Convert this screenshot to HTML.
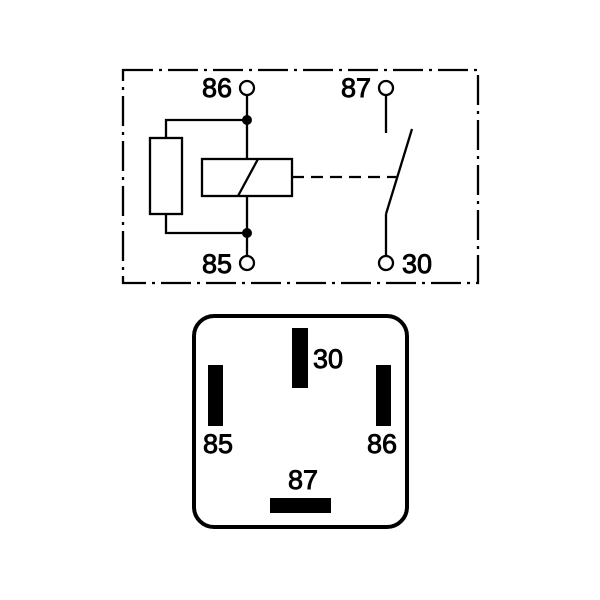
<!DOCTYPE html>
<html><head><meta charset="utf-8"><style>
html,body{margin:0;padding:0;background:#fff;}
svg{display:block}
text{font-family:"Liberation Sans",Arial,sans-serif;font-size:27px;fill:#000;stroke:#000;stroke-width:0.9px;}
</style></head><body>
<svg width="600" height="600" viewBox="0 0 600 600">
<g fill="none" stroke="#000" stroke-width="2.3">
<rect x="123" y="70" width="355" height="213" stroke-dasharray="30,6,3,6"/>
<line x1="247" y1="95" x2="247" y2="159"/>
<line x1="247" y1="196" x2="247" y2="255"/>
<polyline points="247,120 166,120 166,138"/>
<polyline points="166,214 166,233 247,233"/>
<rect x="150" y="138" width="32" height="76"/>
<rect x="202" y="159" width="90" height="37"/>
<line x1="238" y1="196" x2="258" y2="159"/>
<line x1="292" y1="177" x2="397" y2="177" stroke-dasharray="12,7"/>
<line x1="386" y1="95" x2="386" y2="133"/>
<line x1="386" y1="214" x2="412" y2="129"/>
<line x1="386" y1="214" x2="386" y2="255"/>
<circle cx="247" cy="88" r="7"/><circle cx="386" cy="88" r="7"/>
<circle cx="247" cy="263" r="7"/><circle cx="386" cy="263" r="7"/>
<rect x="194" y="316" width="213" height="211" rx="20" stroke-width="4"/>
</g>
<circle cx="247" cy="120" r="5"/><circle cx="247" cy="233" r="5"/>
<text x="232" y="97" text-anchor="end">86</text>
<text x="371" y="97" text-anchor="end">87</text>
<text x="232" y="273" text-anchor="end">85</text>
<text x="402" y="273">30</text>
<rect x="292" y="328" width="16" height="60"/>
<rect x="208" y="365" width="15" height="61"/>
<rect x="376" y="365" width="15" height="61"/>
<rect x="270" y="498" width="61" height="15"/>
<text x="313" y="368">30</text>
<text x="203" y="453">85</text>
<text x="367" y="453">86</text>
<text x="303" y="489" text-anchor="middle">87</text>
</svg>
</body></html>
